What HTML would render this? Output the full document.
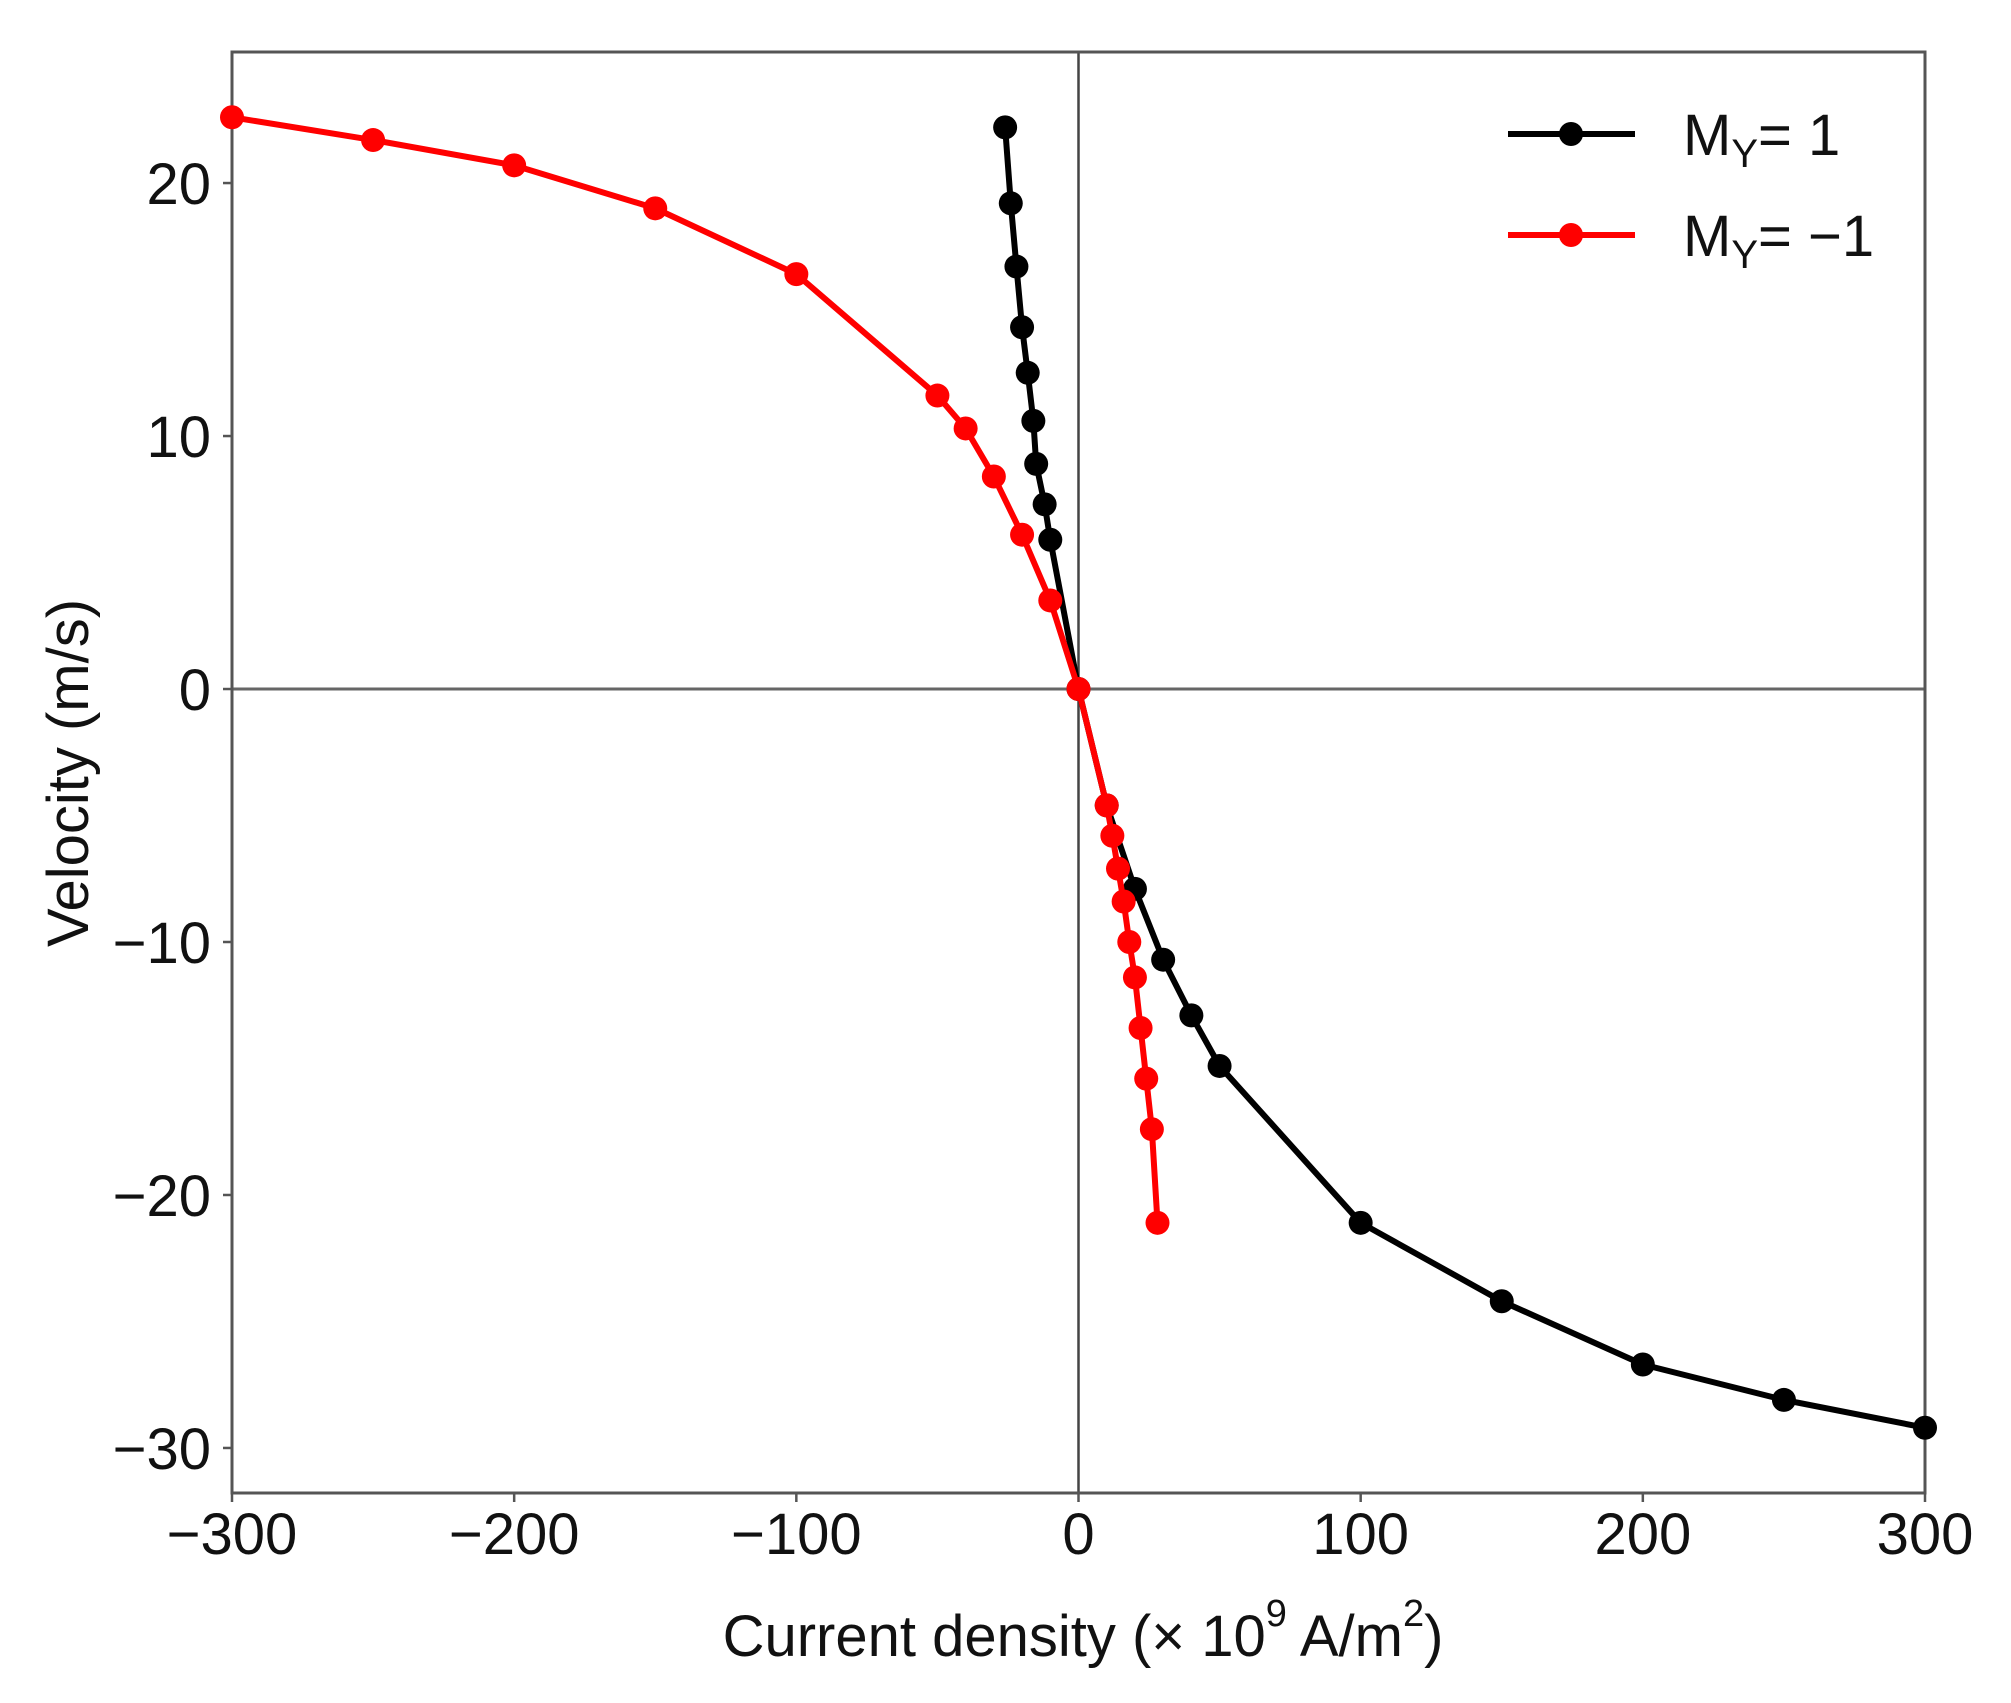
<!DOCTYPE html>
<html><head><meta charset="utf-8"><style>
html,body{margin:0;padding:0;background:#fff;}
svg{display:block;font-family:"Liberation Sans",Arial,sans-serif;}
</style></head><body>
<svg id="chart" width="2011" height="1703" viewBox="0 0 2011 1703"></svg>
<script>
const xTicks=[-300,-200,-100,0,100,200,300];
const yTicks=[-30,-20,-10,0,10,20];
const blackX=[-26,-24,-22,-20,-18,-16,-15,-12,-10,0,10,20,30,40,50,100,150,200,250,300];
const blackY=[22.2,19.2,16.7,14.3,12.5,10.6,8.9,7.3,5.9,0,-4.6,-7.9,-10.7,-12.9,-14.9,-21.1,-24.2,-26.7,-28.1,-29.2];
const redX=[-300,-250,-200,-150,-100,-50,-40,-30,-20,-10,0,10,12,14,16,18,20,22,24,26,28];
const redY=[22.6,21.7,20.7,19.0,16.4,11.6,10.3,8.4,6.1,3.5,0,-4.6,-5.8,-7.1,-8.4,-10.0,-11.4,-13.4,-15.4,-17.4,-21.1];
const L=232,R=1925,T=52,B=1493,xmin=-300,xmax=300,ymin=-31.78,ymax=25.18;
const sx=v=>L+(v-xmin)/(xmax-xmin)*(R-L);
const sy=v=>B-(v-ymin)/(ymax-ymin)*(B-T);
const svg=document.getElementById('chart');
const NS='http://www.w3.org/2000/svg';
function mk(tag,attrs,parent){const e=document.createElementNS(NS,tag);for(const k in attrs)e.setAttribute(k,attrs[k]);(parent||svg).appendChild(e);return e;}
let e=mk('line',{x1:L,x2:R,y1:sy(0),y2:sy(0),stroke:'#666','stroke-width':3});


e=mk('line',{x1:sx(0),x2:sx(0),y1:T,y2:B,stroke:'#444','stroke-width':2.5});


xTicks.forEach(t=>{
  const tk=mk('line',{x1:sx(t),x2:sx(t),y1:B,y2:B+9,stroke:'#555','stroke-width':2.5});
  
  
  const tx=mk('text',{x:sx(t),y:1554,'font-size':58,'text-anchor':'middle',fill:'#111'});
  tx.textContent=String(t).replace('-','\u2212');
  
  
});
yTicks.forEach(t=>{
  const tk=mk('line',{x1:L-9,x2:L,y1:sy(t),y2:sy(t),stroke:'#555','stroke-width':2.5});
  
  
  const tx=mk('text',{x:211,y:sy(t)+21,'font-size':58,'text-anchor':'end',fill:'#111'});
  tx.textContent=String(t).replace('-','\u2212');
  
  
});
e=mk('rect',{x:L,y:T,width:R-L,height:B-T,fill:'none',stroke:'#555','stroke-width':3});


function series(xs,ys,color,name){
  const g=mk('g',{});
  
  
  const pl=mk('polyline',{points:xs.map((x,i)=>sx(x)+','+sy(ys[i])).join(' '),fill:'none',stroke:color,'stroke-width':6,'stroke-linejoin':'round'},g);
  
  
  xs.forEach((x,i)=>{
    const c=mk('circle',{cx:sx(x),cy:sy(ys[i]),r:12,fill:color},g);
    
    
  });
}
series(blackX,blackY,'#000','series-my-1');
series(redX,redY,'#f00','series-my-minus-1');
</script>
<svg style="position:absolute;left:0;top:0" width="2011" height="1703">
<g font-family="Liberation Sans, Arial, sans-serif">
<g>
<line x1="1508" x2="1635" y1="134" y2="134" stroke="#000" stroke-width="6"/>
<circle cx="1571" cy="134" r="12" fill="#000"/>
<text x="1683" y="155" font-size="58" fill="#111">M<tspan font-size="40" dy="12">Y</tspan><tspan dy="-12">= 1</tspan></text>
</g>
<g>
<line x1="1508" x2="1635" y1="235" y2="235" stroke="#f00" stroke-width="6"/>
<circle cx="1571" cy="235" r="12" fill="#f00"/>
<text x="1683" y="256" font-size="58" fill="#111">M<tspan font-size="40" dy="12">Y</tspan><tspan dy="-12">= −1</tspan></text>
</g>
</g>
<text x="1083" y="1656" font-size="58" text-anchor="middle" fill="#111" font-family="Liberation Sans, Arial, sans-serif">Current density (× 10<tspan font-size="38" dy="-30">9</tspan><tspan dy="30"> A/m</tspan><tspan font-size="38" dy="-30">2</tspan><tspan dy="30">)</tspan></text>
<text x="0" y="0" transform="translate(88,773) rotate(-90)" font-size="58" text-anchor="middle" fill="#111" font-family="Liberation Sans, Arial, sans-serif">Velocity (m/s)</text>
</svg>
</body></html>
